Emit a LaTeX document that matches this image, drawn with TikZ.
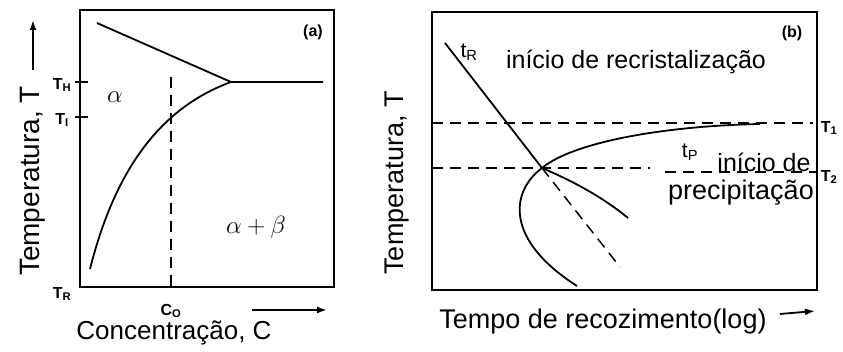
\documentclass[tikz,border=0pt]{standalone}
\usepackage{fontspec}
\setmainfont{Liberation Sans}
\usetikzlibrary{arrows.meta}
\begin{document}
\begin{tikzpicture}[x=1pt,y=-1pt,
  ln/.style={line width=1.8pt},
  dsh/.style={line width=1.5pt,dash pattern=on 11pt off 7pt},
  lbl/.style={inner sep=0pt,font=\fontsize{26}{28}\selectfont},
  sml/.style={inner sep=0pt,font=\bfseries\fontsize{16}{17}\selectfont},
  arr/.style={line width=1.8pt,-{Latex[length=10pt,width=7pt]}}]
\useasboundingbox (0,0) rectangle (843,352);
% ---------- panel (a)
\draw[ln] (80,10) rectangle (334,287);
\coordinate (top1) at (97,23);
\coordinate (tri) at (231,82);
\coordinate (hend) at (323,82);
\coordinate (bot1) at (90,269);
\draw[ln] (top1) -- (tri) -- (hend);
\draw[ln] (bot1) .. controls (115,170) and (160,108) .. (tri);
\draw[dsh] (171,77) -- (171,293);
\coordinate (thl) at (75,82); \coordinate (thr) at (88,82);
\coordinate (t1l) at (75,117); \coordinate (t1r) at (88,117);
\draw[ln] (thl) -- (thr);
\draw[ln] (t1l) -- (t1r);
\node[sml] (TH) at (62,85) {T\textsubscript{H}};
\node[sml] (T1a) at (62,120) {T\textsubscript{I}};
\node[sml] (TR) at (62,294) {T\textsubscript{R}};
\node[sml] (C0) at (171,311) {C\textsubscript{O}};
\node[inner sep=0pt,font=\fontsize{24}{26}\selectfont] (alpha) at (115,97) {$\alpha$};
\node[inner sep=0pt,font=\fontsize{24}{26}\selectfont] (ab) at (256,227) {$\alpha+\beta$};
\node[sml] (la) at (313,32) {(a)};
\node[lbl] (xa) at (174,333) {Concentração, C};
\node[lbl,rotate=90,font=\fontsize{28}{30}\selectfont] (ya) at (33,181) {Temperatura, T};
\coordinate (ya0) at (33,70); \coordinate (ya1) at (33,20);
\draw[arr] (ya0) -- (ya1);
\coordinate (xa0) at (252,310); \coordinate (xa1) at (327,310);
\draw[arr] (xa0) -- (xa1);
% ---------- panel (b)
\draw[ln] (432,12) rectangle (817,290);
\draw[dsh] (432,123) -- (813,123);
\draw[dsh] (432,168) -- (650,168);
\draw[dsh] (665,172) -- (817,172);
\coordinate (rs) at (445,43);
\coordinate (X) at (542,168);
\coordinate (rd) at (620,267);
\coordinate (rb) at (628,218);
\coordinate (pe) at (760,124);
\coordinate (pb) at (577,286);
\draw[ln] (rs) -- (X);
\draw[dsh] (X) -- (rd);
\draw[ln] (X) .. controls (570,180) and (600,195) .. (rb);
\draw[ln] (pe) .. controls (660,126) and (572,143) .. (X)
   .. controls (510,192) and (505,240) .. (pb);
\node[sml] (T1b) at (829,128) {T\textsubscript{1}};
\node[sml] (T2b) at (829,177) {T\textsubscript{2}};
\node[sml] (lb) at (792,33) {(b)};
\node[inner sep=0pt,font=\fontsize{21}{22}\selectfont] (tR) at (469,52) {t\textsubscript{R}};
\node[inner sep=0pt,font=\fontsize{21}{22}\selectfont] (tP) at (690,152) {t\textsubscript{P}};
\node[lbl,font=\fontsize{25}{27}\selectfont] (rec) at (636,62) {início de recristalização};
\node[lbl,font=\fontsize{25}{27}\selectfont] (pre1) at (764,162) {início de};
\node[lbl,font=\fontsize{27}{29}\selectfont] (pre2) at (741,193) {precipitação};
\node[lbl,font=\fontsize{27}{29}\selectfont] (xb) at (603,322) {Tempo de recozimento(log)};
\node[lbl,rotate=90,font=\fontsize{27}{29}\selectfont] (yb) at (397,183) {Temperatura, T};
\coordinate (xb0) at (780,314); \coordinate (xb1) at (815,311);
\draw[arr] (xb0) -- (xb1);
\end{tikzpicture}
\end{document}
